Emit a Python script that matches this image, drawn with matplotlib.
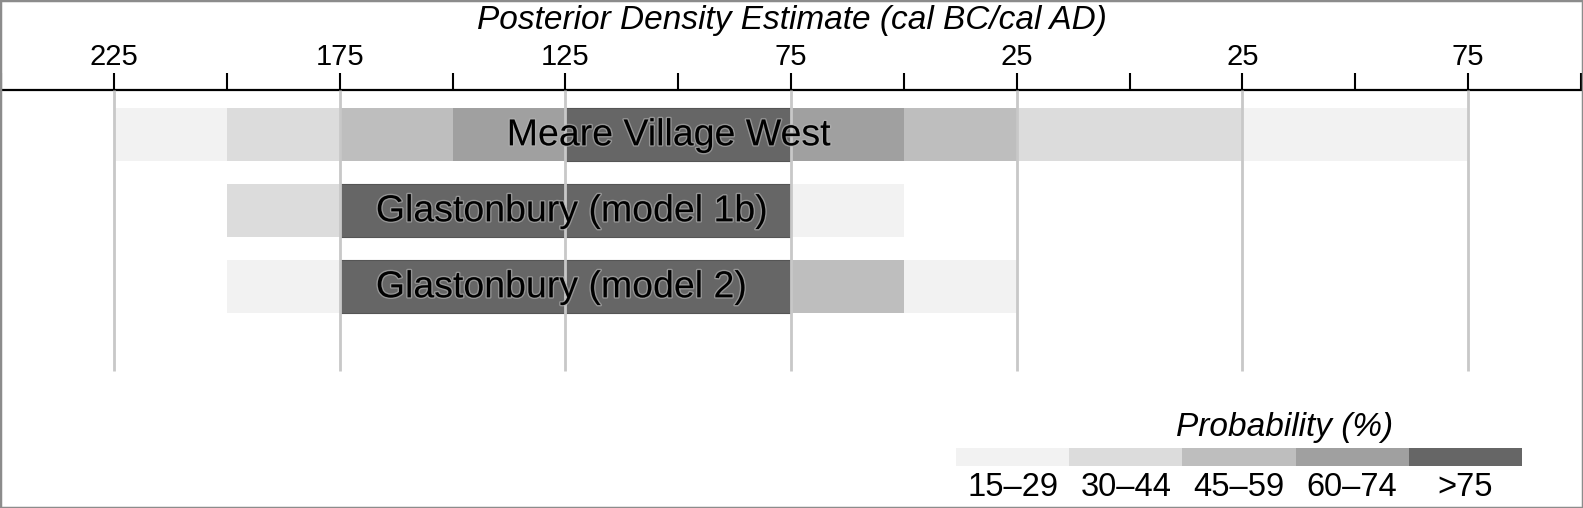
import matplotlib
matplotlib.use('Agg')
import matplotlib.pyplot as plt
import matplotlib.patches as mpatches
import matplotlib.patheffects as pe

plt.rcParams['font.family'] = ['Liberation Sans', 'DejaVu Sans']

# probability bands, darkest = highest
band_labels = ['15\u201329', '30\u201344', '45\u201359', '60\u201374', '>75']
band_colors = ['#f2f2f2', '#dcdcdc', '#bebebe', '#a0a0a0', '#666666']

# sites (top to bottom), segment edges in years (negative = BC) and band level of each segment
sites = ['Meare Village West', 'Glastonbury (model 1b)', 'Glastonbury (model 2)']
meare_edges = [-225, -200, -175, -150, -125, -75, -50, -25, 25, 75]
meare_levels = [1, 2, 3, 4, 5, 4, 3, 2, 1]
glas1b_edges = [-200, -175, -75, -50]
glas1b_levels = [2, 5, 1]
glas2_edges = [-200, -175, -75, -50, -25]
glas2_levels = [1, 5, 3, 1]

tick_years = [-250, -225, -200, -175, -150, -125, -100, -75, -50, -25, 0, 25, 50, 75, 100]
label_years = [-225, -175, -125, -75, -25, 25, 75]

W, H = 1583, 508
fig = plt.figure(figsize=(W / 100, H / 100), dpi=100)
ax = fig.add_axes([0, 0, 1, 1 - 90 / H])
ax.set_xlim(-250.27, 100.44)
ax.set_ylim(4.914, -0.586)

all_edges = [meare_edges, glas1b_edges, glas2_edges]
all_levels = [meare_levels, glas1b_levels, glas2_levels]
label_x = [-138, -167, -167]
halo = [pe.withStroke(linewidth=2, foreground='#b4b4b4', alpha=0.6)]
for row, (edges, levels) in enumerate(zip(all_edges, all_levels)):
    for i in range(len(levels)):
        lev = levels[i]
        ax.barh(row, edges[i + 1] - edges[i], left=edges[i], height=0.70,
                color=band_colors[lev - 1],
                edgecolor='#555555' if lev == 5 else 'none', lw=0.8, zorder=1)
    ax.text(label_x[row], row + 0.01, sites[row], fontsize=27, va='center', ha='left',
            zorder=4, path_effects=halo)

for yr in label_years:
    ax.plot([yr, yr], [-0.586, 3.11], color='#c8c8c8', lw=2, zorder=3, solid_capstyle='butt')

for s in ['left', 'right', 'bottom']:
    ax.spines[s].set_visible(False)
ax.spines['top'].set_linewidth(1.6)
ax.set_yticks([])
ax.xaxis.set_ticks_position('top')
ax.set_xticks(tick_years)
ax.set_xticklabels([str(abs(y)) if y in label_years else '' for y in tick_years], fontsize=21)
ax.tick_params(axis='x', direction='out', length=12, width=1.5, pad=2)
ax.patch.set_alpha(0)

fig.text(0.5, 1 - 21 / H, 'Posterior Density Estimate (cal BC/cal AD)', fontsize=24,
         style='italic', ha='center', va='center')

# legend strip
lax = fig.add_axes([956 / W, (H - 466) / H, (1522 - 956) / W, 18 / H])
lax.set_xlim(0, len(band_labels))
lax.set_ylim(0, 1)
lax.bar(range(len(band_labels)), [1] * len(band_labels), width=1, align='edge',
        color=band_colors, edgecolor='none')
lax.axis('off')
for i, lab in enumerate(band_labels):
    lax.text(i + 0.5, -1.2, lab, fontsize=23.5, ha='center', va='center')
lax.text(2.9, 2.15, 'Probability (%)', fontsize=24, style='italic', ha='center', va='center')

fig.patches.append(mpatches.Rectangle((0, 0), 1, 1, transform=fig.transFigure, fill=False,
                                      edgecolor='#8c8c8c', lw=2.5, zorder=10))

fig.savefig('out.png', dpi=100)
